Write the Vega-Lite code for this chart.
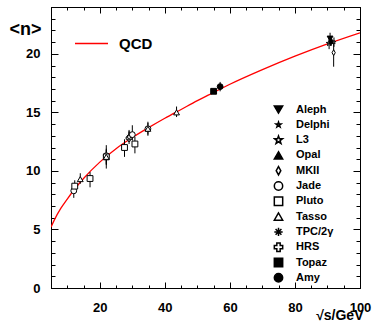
{
  "$schema": "https://vega.github.io/schema/vega-lite/v6.json",
  "autosize": "none",
  "width": 309,
  "height": 281,
  "padding": {"left": 51, "top": 7, "right": 12, "bottom": 33},
  "background": "white",
  "config": {
    "view": {"stroke": "black", "strokeWidth": 1},
    "axis": {
      "domainColor": "black", "tickColor": "black", "grid": false, "labelFlush": false, "labelOverlap": false,
      "labelFont": "Liberation Sans", "labelFontWeight": "bold", "labelFontSize": 13, "labelColor": "black",
      "titleFont": "Liberation Sans", "titleFontWeight": "bold", "titleColor": "black"
    }
  },
  "datasets": {
    "meas": [
      {"exp": "Jade", "x": 12.0, "y": 8.3, "lo": 7.7, "hi": 8.9},
      {"exp": "Pluto", "x": 12.3, "y": 8.7, "lo": 8.2, "hi": 9.2},
      {"exp": "Tasso", "x": 14.0, "y": 9.3, "lo": 8.9, "hi": 9.8},
      {"exp": "Pluto", "x": 17.0, "y": 9.35, "lo": 8.6, "hi": 9.9},
      {"exp": "Jade", "x": 22.0, "y": 11.3, "lo": 10.2, "hi": 12.2},
      {"exp": "Pluto", "x": 22.0, "y": 11.2, "lo": 10.5, "hi": 11.9},
      {"exp": "Tasso", "x": 22.0, "y": 11.2, "lo": 10.6, "hi": 11.8},
      {"exp": "Pluto", "x": 27.6, "y": 12.0, "lo": 11.2, "hi": 12.7},
      {"exp": "TPC/2γ", "x": 29.0, "y": 12.9, "lo": 12.5, "hi": 13.4},
      {"exp": "HRS", "x": 29.0, "y": 12.8, "lo": 12.3, "hi": 13.5},
      {"exp": "MKII", "x": 29.0, "y": 12.9, "lo": 12.5, "hi": 13.3},
      {"exp": "Jade", "x": 30.0, "y": 13.1, "lo": 12.6, "hi": 13.9},
      {"exp": "Pluto", "x": 30.8, "y": 12.3, "lo": 11.5, "hi": 12.9},
      {"exp": "Jade", "x": 34.8, "y": 13.6, "lo": 13.0, "hi": 14.2},
      {"exp": "Tasso", "x": 34.8, "y": 13.6, "lo": 13.1, "hi": 14.1},
      {"exp": "Tasso", "x": 43.6, "y": 15.0, "lo": 14.6, "hi": 15.5},
      {"exp": "Topaz", "x": 55.0, "y": 16.8, "lo": 16.7, "hi": 16.9},
      {"exp": "Amy", "x": 57.0, "y": 17.2, "lo": 16.8, "hi": 17.6},
      {"exp": "L3", "x": 90.5, "y": 20.9, "lo": 20.4, "hi": 21.4},
      {"exp": "Aleph", "x": 90.8, "y": 21.3, "lo": 20.8, "hi": 21.8},
      {"exp": "Opal", "x": 91.2, "y": 21.1, "lo": 20.7, "hi": 21.5},
      {"exp": "Delphi", "x": 92.0, "y": 21.0, "lo": 20.6, "hi": 21.4},
      {"exp": "MKII", "x": 91.9, "y": 20.1, "lo": 18.9, "hi": 21.0}
    ],
    "qcd": [
      {"model": "QCD", "x": 5, "y": 5.2},
      {"model": "QCD", "x": 6, "y": 5.8},
      {"model": "QCD", "x": 8, "y": 6.8},
      {"model": "QCD", "x": 10, "y": 7.6},
      {"model": "QCD", "x": 12, "y": 8.35},
      {"model": "QCD", "x": 15, "y": 9.35},
      {"model": "QCD", "x": 20, "y": 10.75},
      {"model": "QCD", "x": 25, "y": 11.9},
      {"model": "QCD", "x": 30, "y": 12.85},
      {"model": "QCD", "x": 35, "y": 13.7},
      {"model": "QCD", "x": 40, "y": 14.5},
      {"model": "QCD", "x": 45, "y": 15.25},
      {"model": "QCD", "x": 50, "y": 16.0},
      {"model": "QCD", "x": 55, "y": 16.7},
      {"model": "QCD", "x": 60, "y": 17.4},
      {"model": "QCD", "x": 70, "y": 18.65},
      {"model": "QCD", "x": 80, "y": 19.8},
      {"model": "QCD", "x": 90, "y": 20.85},
      {"model": "QCD", "x": 100, "y": 21.8}
    ]
  },
  "layer": [
    {
      "data": {"name": "qcd"},
      "mark": {"type": "line", "strokeWidth": 1.3, "interpolate": "monotone", "clip": true},
      "encoding": {
        "x": {"field": "x", "type": "quantitative", "scale": {"domain": [5, 100], "nice": false, "zero": false},
          "axis": {"orient": "top", "title": null, "labels": false, "values": [5,10,15,20,25,30,35,40,45,50,55,60,65,70,75,80,85,90,95,100],
            "tickSize": {"condition": {"test": "datum.value % 20 === 0", "value": -6}, "value": -3}}},
        "y": {"field": "y", "type": "quantitative", "scale": {"domain": [0, 24], "nice": false},
          "axis": {"orient": "right", "title": null, "labels": false, "values": [0,1,2,3,4,5,6,7,8,9,10,11,12,13,14,15,16,17,18,19,20,21,22,23,24],
            "tickSize": {"condition": {"test": "datum.value % 5 === 0", "value": -7}, "value": -4}}},
        "stroke": {"field": "model", "type": "nominal", "scale": {"range": ["#ff0000"]},
          "legend": {"orient": "none", "legendX": 23, "legendY": 19, "title": null, "padding": 0,
            "symbolType": "stroke", "symbolSize": 1089, "symbolStrokeWidth": 1.3,
            "labelFont": "Liberation Sans", "labelFontSize": 15, "labelFontWeight": "bold", "labelOffset": 10, "labelColor": "black"}}
      }
    },
    {
      "data": {"name": "meas"},
      "mark": {"type": "rule", "color": "black", "strokeWidth": 1},
      "encoding": {
        "x": {"field": "x", "type": "quantitative",
          "axis": {"orient": "bottom", "title": "√s/GeV", "titleFontSize": 14, "titleX": 312, "titleY": 27, "titleAlign": "right", "titleBaseline": "middle",
            "values": [5,10,15,20,25,30,35,40,45,50,55,60,65,70,75,80,85,90,95,100],
            "labelExpr": "datum.value % 20 === 0 ? datum.label : ''",
            "labelPadding": 19,
            "tickSize": {"condition": {"test": "datum.value % 20 === 0", "value": -6}, "value": -3}}},
        "y": {"field": "lo", "type": "quantitative",
          "axis": {"orient": "left", "title": "<n>", "titleFontSize": 18, "titleAngle": 0, "titleX": -26, "titleY": 22, "titleAlign": "center", "titleBaseline": "middle",
            "values": [0,1,2,3,4,5,6,7,8,9,10,11,12,13,14,15,16,17,18,19,20,21,22,23,24],
            "labelExpr": "datum.value % 5 === 0 ? datum.label : ''",
            "labelPadding": 18,
            "tickSize": {"condition": {"test": "datum.value % 5 === 0", "value": -7}, "value": -4}}},
        "y2": {"field": "hi"}
      }
    },
    {
      "data": {"name": "meas"},
      "mark": {"type": "point", "filled": true, "stroke": "black", "strokeWidth": 1, "size": 34, "opacity": 1},
      "encoding": {
        "x": {"field": "x", "type": "quantitative", "axis": null},
        "y": {"field": "y", "type": "quantitative", "axis": null},
        "shape": {"field": "exp", "type": "nominal",
          "scale": {"domain": ["Aleph","Delphi","L3","Opal","MKII","Jade","Pluto","Tasso","TPC/2γ","HRS","Topaz","Amy"],
            "range": ["triangle-down",
              "M0,-0.65L0.153,-0.211L0.618,-0.201L0.247,0.081L0.382,0.526L0,0.26L-0.382,0.526L-0.247,0.081L-0.618,-0.201L-0.153,-0.211Z",
              "M0,-1L0.235,-0.324L0.951,-0.309L0.380,0.124L0.588,0.809L0,0.4L-0.588,0.809L-0.380,0.124L-0.951,-0.309L-0.235,-0.324Z",
              "triangle-up",
              "M0,-1L0.55,0L0,1L-0.55,0Z",
              "circle", "square", "triangle-up",
              "M-1,0L1,0M0,-1L0,1M-0.7,-0.7L0.7,0.7M-0.7,0.7L0.7,-0.7",
              "cross", "square", "circle"]},
          "legend": {"orient": "none", "legendX": 222, "legendY": 96, "title": null, "padding": 0,
            "symbolSize": 70, "labelOffset": 12, "rowPadding": 2.3, "clipHeight": 13,
            "labelFont": "Liberation Sans", "labelFontSize": 11, "labelFontWeight": "bold", "labelColor": "black",
            "encode": {"symbols": {"update": {"stroke": {"value": "black"}, "strokeWidth": {"value": 1}}}}}},
        "fill": {"field": "exp", "type": "nominal",
          "scale": {"domain": ["Aleph","Delphi","L3","Opal","MKII","Jade","Pluto","Tasso","TPC/2γ","HRS","Topaz","Amy"],
            "range": ["black","white","white","black","white","white","white","white","black","white","black","black"]},
          "legend": {"orient": "none", "legendX": 222, "legendY": 96, "title": null, "padding": 0,
            "symbolSize": 70, "labelOffset": 12, "rowPadding": 2.3, "clipHeight": 13,
            "labelFont": "Liberation Sans", "labelFontSize": 11, "labelFontWeight": "bold", "labelColor": "black",
            "encode": {"symbols": {"update": {"stroke": {"value": "black"}, "strokeWidth": {"value": 1}}}}}}
      }
    }
  ],
  "resolve": {"axis": {"x": "independent", "y": "independent"}}
}
